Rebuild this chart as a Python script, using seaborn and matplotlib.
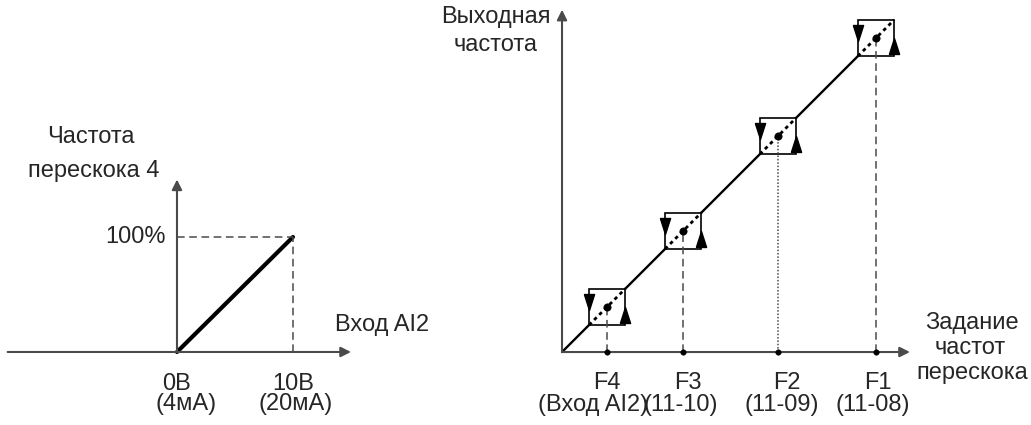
import matplotlib
matplotlib.use("Agg")
import matplotlib.pyplot as plt
from matplotlib.patches import Rectangle
import pandas as pd
import seaborn as sns

sns.set_theme(style="white")
plt.rcParams["font.family"] = ["Liberation Sans", "DejaVu Sans"]

# --- left panel: AI2 input -> jump frequency 4 ---
ai2_volts = [0, 10]
ai2_volt_labels = ["0В", "10В"]
ai2_ma_labels = ["(4мА)", "(20мА)"]
jump4_pct = [0, 100]

# --- right panel: skip frequencies ---
skip_names = ["F4", "F3", "F2", "F1"]
skip_params = ["(Вход AI2)", "(11-10)", "(11-09)", "(11-08)"]
skip_freq = [7.2, 19.3, 34.4, 50.0]
skip_band = 2.9
drop_styles = [(0, (5, 3)), (0, (5, 3)), (0, (1, 1.2)), (0, (5, 3))]

AX_COLOR = "#4a4a4a"
FS = 17

fig = plt.figure(figsize=(10.31, 4.25), dpi=100)


def axis_arrow(ax, start, end):
    ax.annotate("", xy=end, xytext=start,
                arrowprops=dict(arrowstyle="-|>", color=AX_COLOR, lw=1.5,
                                mutation_scale=15, shrinkA=0, shrinkB=0))


# ---------------- left panel ----------------
ax1 = fig.add_axes([0, 0, 360 / 1031, 1])
ax1.set_xlim(-15.26, 15.78)
ax1.set_ylim(-63.5, 306.1)
ax1.axis("off")

axis_arrow(ax1, (-14.6, 0), (15.0, 0))
axis_arrow(ax1, (0, 0), (0, 150))

sns.lineplot(x=ai2_volts, y=jump4_pct, ax=ax1, color="black", lw=3.0)
ax1.plot([0, ai2_volts[1]], [jump4_pct[1], jump4_pct[1]], color=AX_COLOR,
         lw=1.1, ls=(0, (5, 3)))
ax1.plot([ai2_volts[1], ai2_volts[1]], [0, jump4_pct[1]], color=AX_COLOR,
         lw=1.1, ls=(0, (5, 3)))

ax1.text(-7.4, 187, "Частота", ha="center", va="center", fontsize=FS)
ax1.text(-7.2, 157, "перескока 4", ha="center", va="center", fontsize=FS)
ax1.annotate("100%", xy=(0, jump4_pct[1]), xytext=(-11, 0),
             textcoords="offset pixels", ha="right", va="center", fontsize=FS)
ax1.text(13.6, 23.5, "Вход AI2", ha="left", va="center", fontsize=FS)
for v, vl, ml, dx in zip(ai2_volts, ai2_volt_labels, ai2_ma_labels, [9, 3]):
    ax1.annotate(vl, xy=(v, 0), xytext=(0, -32), textcoords="offset pixels",
                 ha="center", va="center", fontsize=FS)
    ax1.annotate(ml, xy=(v, 0), xytext=(dx, -52), textcoords="offset pixels",
                 ha="center", va="center", fontsize=FS)

# ---------------- right panel ----------------
ax2 = fig.add_axes([440 / 1031, 0, 591 / 1031, 1])
ax2.set_xlim(-19.43, 74.68)
ax2.set_ylim(-11.62, 56.05)
ax2.axis("off")

axis_arrow(ax2, (0, 0), (55.4, 0))
axis_arrow(ax2, (0, 0), (0, 54.5))

# solid output line, broken by the skip bands
edges = [0]
for f in skip_freq:
    edges += [f - skip_band, f + skip_band]
rows = []
for i in range(len(skip_freq)):
    for x in (edges[2 * i], edges[2 * i + 1]):
        rows.append({"setting": x, "output": x, "seg": i})
seg_df = pd.DataFrame(rows)
sns.lineplot(data=seg_df, x="setting", y="output", units="seg",
             estimator=None, color="black", lw=1.7, ax=ax2)

down_tri = [(-0.32, 0.5), (0.32, 0.5), (0, -0.5), (-0.32, 0.5)]
up_tri = [(-0.32, -0.5), (0.32, -0.5), (0, 0.5), (-0.32, -0.5)]

for f, ls in zip(skip_freq, drop_styles):
    lo, hi = f - skip_band, f + skip_band
    ax2.add_patch(Rectangle((lo, lo), 2 * skip_band, 2 * skip_band,
                            fill=False, ec="black", lw=1.2))
    ax2.plot([lo, hi], [lo, hi], color="black", lw=2, ls=(0, (1.3, 1.3)))
    ax2.plot([lo], [f + 0.25 * skip_band], marker=down_tri, ms=11.5,
             color="black", mec="black")
    ax2.plot([hi], [f - 0.45 * skip_band], marker=up_tri, ms=11.5,
             color="black", mec="black")
    ax2.plot([f, f], [0, f], color=AX_COLOR, lw=1.1, ls=ls)

sns.scatterplot(x=skip_freq, y=skip_freq, ax=ax2, color="black", s=28,
                edgecolor="black", zorder=5)
sns.scatterplot(x=skip_freq, y=[0] * len(skip_freq), ax=ax2, color="black",
                s=16, edgecolor="black", zorder=5)

for f, name, par, dxn, dxp in zip(skip_freq, skip_names, skip_params,
                                   [0, 5, 9, 2], [-14, -2, 4, -3]):
    ax2.annotate(name, xy=(f, 0), xytext=(dxn, -31), textcoords="offset pixels",
                 ha="center", va="center", fontsize=FS)
    ax2.annotate(par, xy=(f, 0), xytext=(dxp, -53), textcoords="offset pixels",
                 ha="center", va="center", fontsize=FS)

ax2.text(65.3, 4.6, "Задание", ha="center", va="center", fontsize=FS)
ax2.text(65.0, 0.6, "частот", ha="center", va="center", fontsize=FS)
ax2.text(65.3, -3.3, "перескока", ha="center", va="center", fontsize=FS)
ax2.text(-10.5, 53.3, "Выходная", ha="center", va="center", fontsize=FS)
ax2.text(-10.5, 48.9, "частота", ha="center", va="center", fontsize=FS)

fig.savefig("out.png", dpi=100)
